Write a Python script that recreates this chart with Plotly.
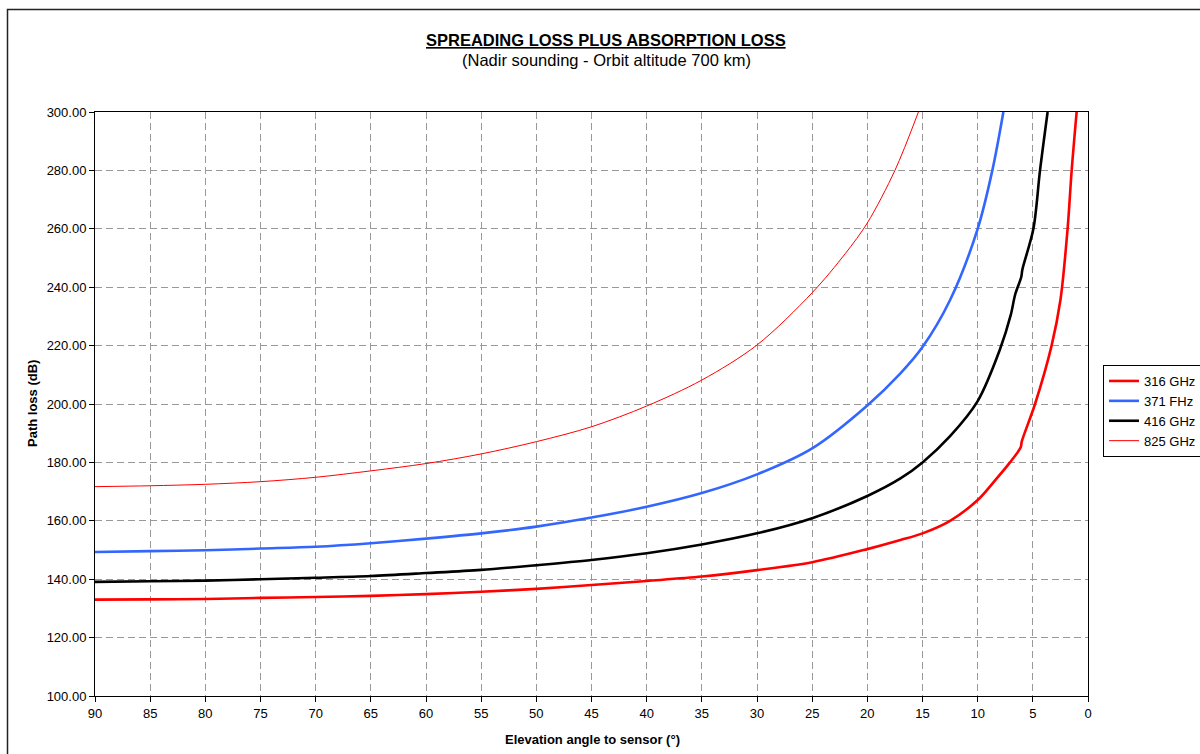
import plotly.graph_objects as go

# ---- data ----
angle_316 = [90, 85, 80, 75, 70, 65, 60, 55, 50, 45, 40, 35, 30, 25, 20, 17, 15, 12.5, 10, 8.5, 7.07, 6.1, 6.0, 4.8, 3.3, 2.5, 1.85, 1.48, 1.03]
loss_316 = [133.0, 133.1, 133.2, 133.6, 133.9, 134.3, 134.9, 135.7, 136.7, 138.0, 139.4, 140.9, 143.1, 145.8, 150.3, 153.4, 155.7, 160.0, 167.1, 173.5, 180.0, 185.2, 187.2, 200.0, 220.0, 235.6, 260.0, 280.0, 300.0]

angle_371 = [90, 85, 80, 75, 70, 65, 60, 55, 50, 45, 40, 35, 30, 25, 20, 17, 15, 12.5, 10, 8.67, 7.67]
loss_371 = [149.3, 149.6, 149.9, 150.5, 151.1, 152.3, 153.9, 155.7, 158.0, 161.1, 164.8, 169.5, 175.9, 184.8, 199.5, 210.5, 219.5, 235.6, 260.0, 280.0, 300.0]

angle_416 = [90, 85, 80, 75, 70, 65, 60, 55, 50, 45, 40, 35, 30, 25, 20, 17, 15, 12.5, 10, 8, 7, 6.6, 6.05, 5.95, 4.95, 4.35, 3.66]
loss_416 = [139.1, 139.3, 139.5, 140.0, 140.5, 141.1, 142.1, 143.2, 144.8, 146.6, 148.9, 151.9, 155.7, 160.9, 168.5, 174.5, 180.0, 189.0, 201.0, 218.5, 230.5, 237.5, 243.5, 246.0, 260.0, 280.0, 300.0]

angle_825 = [90, 85, 80, 75, 70, 65, 60, 55, 50, 45, 40, 35, 30, 25, 22, 20, 17.5, 15.37]
loss_825 = [171.7, 172.0, 172.5, 173.4, 174.9, 177.1, 179.6, 182.9, 187.1, 192.2, 199.3, 208.2, 220.2, 238.1, 251.5, 262.0, 280.0, 300.0]

series_names = ["316 GHz", "371 FHz", "416 GHz", "825 GHz"]
x_ticks = list(range(90, -1, -5))
y_ticks = list(range(100, 301, 20))

# ---- figure ----
FONT = "Liberation Sans, Arial, sans-serif"
fig = go.Figure()
styles = [("#FF0000", 2.6), ("#3366FF", 2.6), ("#000000", 2.6), ("#FF0000", 1.0)]
data = [(angle_316, loss_316), (angle_371, loss_371), (angle_416, loss_416), (angle_825, loss_825)]
for (xs, ys), name, (col, w) in zip(data, series_names, styles):
    fig.add_trace(go.Scatter(x=xs, y=ys, name=name, mode="lines",
                             line=dict(color=col, width=w, shape="spline", smoothing=0.9)))

L, R, T, B = 95, 1088, 112, 696
W, H = R - L, B - T
def px(x):
    return (x - L) / W
def py(y):
    return (B - y) / H

fig.update_layout(
    width=1200, height=754,
    margin=dict(l=L, r=1200 - R, t=T, b=754 - B, pad=0, autoexpand=False),
    paper_bgcolor="white", plot_bgcolor="white",
    font=dict(family=FONT, color="black", size=13),
    showlegend=True,
    legend=dict(x=px(1103), y=py(365), xanchor="left", yanchor="top",
                bordercolor="black", borderwidth=1, bgcolor="white",
                font=dict(size=13, family=FONT), itemwidth=30,
                tracegroupgap=0),
    xaxis=dict(range=[90, 0], tickvals=x_ticks, ticktext=[str(v) for v in x_ticks],
               showgrid=True, gridcolor="#999999", griddash="7px,4px", gridwidth=1,
               showline=True, linecolor="black", linewidth=1, mirror=True,
               ticks="outside", ticklen=5, tickcolor="black",
               tickfont=dict(size=13, family=FONT), zeroline=False, automargin=False),
    yaxis=dict(range=[100, 300], tickvals=y_ticks, ticktext=[f"{v:.2f}" for v in y_ticks],
               showgrid=True, gridcolor="#999999", griddash="7px,4px", gridwidth=1,
               showline=True, linecolor="black", linewidth=1, mirror=True,
               ticks="outside", ticklen=5, tickcolor="black",
               tickfont=dict(size=13, family=FONT), zeroline=False, automargin=False),
)

annotations = [
    dict(text="<b><u>SPREADING LOSS PLUS ABSORPTION LOSS</u></b>", x=px(606), y=py(40),
         font=dict(size=16.5, family=FONT)),
    dict(text="(Nadir sounding - Orbit altitude 700 km)", x=px(606), y=py(60),
         font=dict(size=16.5, family=FONT)),
    dict(text="<b>Path loss (dB)</b>", x=px(32), y=py(404), textangle=-90,
         font=dict(size=13, family=FONT)),
    dict(text="<b>Elevation angle to sensor (°)</b>", x=px(592), y=py(739),
         font=dict(size=13, family=FONT)),
]
for a in annotations:
    fig.add_annotation(xref="paper", yref="paper", showarrow=False,
                       xanchor="center", yanchor="middle", **a)

# outer chart-area border
fig.add_shape(type="rect", xref="paper", yref="paper",
              x0=px(7.5), x1=px(1210), y0=py(770), y1=py(9.5),
              line=dict(color="#222222", width=1.5), fillcolor="rgba(0,0,0,0)",
              layer="below")

fig.write_html("out.html", config={"displayModeBar": False},
               post_script="document.body.style.margin='0';document.body.style.overflow='hidden';")
